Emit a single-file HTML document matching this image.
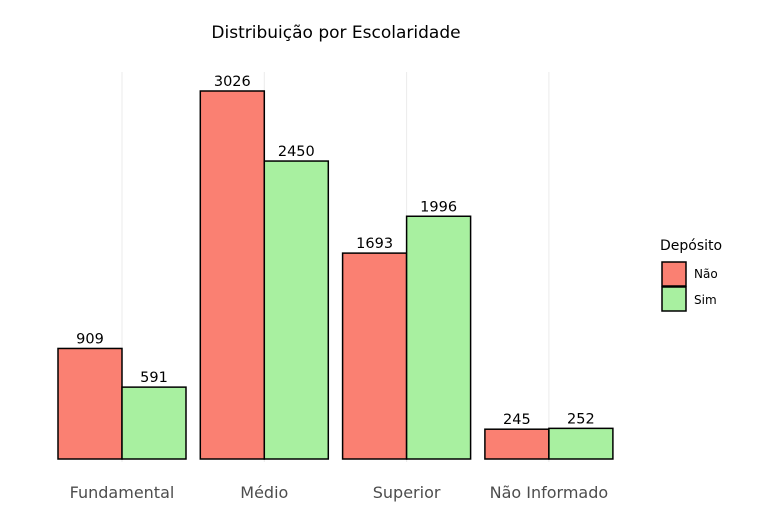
<!DOCTYPE html>
<html><head><meta charset="utf-8"><style>
body{margin:0;background:#fff;font-family:"DejaVu Sans","Liberation Sans",sans-serif}
</style></head><body>
<svg id="chart" width="772" height="515" xmlns="http://www.w3.org/2000/svg" font-family="DejaVu Sans, Liberation Sans, sans-serif">
<text x="336" y="38" text-anchor="middle" font-size="17" fill="#000">Distribuição por Escolaridade</text>
<g id="grid"></g><g id="bars"></g><g id="labels"></g>
<g>
<text x="660" y="250" font-size="14" fill="#000">Depósito</text>
<rect x="662" y="262" width="24" height="24" fill="#FA8072" stroke="#000" stroke-width="1.5"/>
<rect x="662" y="287" width="24" height="24" fill="#A8F0A0" stroke="#000" stroke-width="1.5"/>
<text x="694" y="278" font-size="12" fill="#000">Não</text>
<text x="694" y="304" font-size="12" fill="#000">Sim</text>
</g>
</svg>
<script>
const categories=["Fundamental","Médio","Superior","Não Informado"];
const naoValues=[909,3026,1693,245];
const simValues=[591,2450,1996,252];
const NS="http://www.w3.org/2000/svg";
const baseY=459, scale=368/3026, x0=122, step=142.3, bw=64;
function yPos(v){return baseY-v*scale;}
function xCenter(i){return x0+i*step;}
const g=document.getElementById('grid'),b=document.getElementById('bars'),l=document.getElementById('labels');
function mk(tag,attrs,parent){const e=document.createElementNS(NS,tag);for(const k in attrs)e.setAttribute(k,attrs[k]);parent.appendChild(e);return e;}
categories.forEach((c,i)=>{
  const cx=xCenter(i);
  const gl=mk('line',{x1:cx,x2:cx,y1:72,y2:462,stroke:'#ebebeb','stroke-width':1},g);
  
  
  [[naoValues[i],'#FA8072',cx-bw,'nao'],[simValues[i],'#A8F0A0',cx,'sim']].forEach(([v,col,x,s])=>{
    const y=yPos(v);
    const r=mk('rect',{x:x,y:y,width:bw,height:baseY-y,fill:col,stroke:'#000','stroke-width':1.5},b);
    
    
    const t=mk('text',{x:x+bw/2,y:y-5,'text-anchor':'middle','font-size':14.5,fill:'#000'},l);
    t.textContent=v;
    
    
  });
  const tl=mk('text',{x:cx,y:498,'text-anchor':'middle','font-size':16,fill:'#4d4d4d'},l);
  tl.textContent=c;
  
  
});
</script>
</body></html>
